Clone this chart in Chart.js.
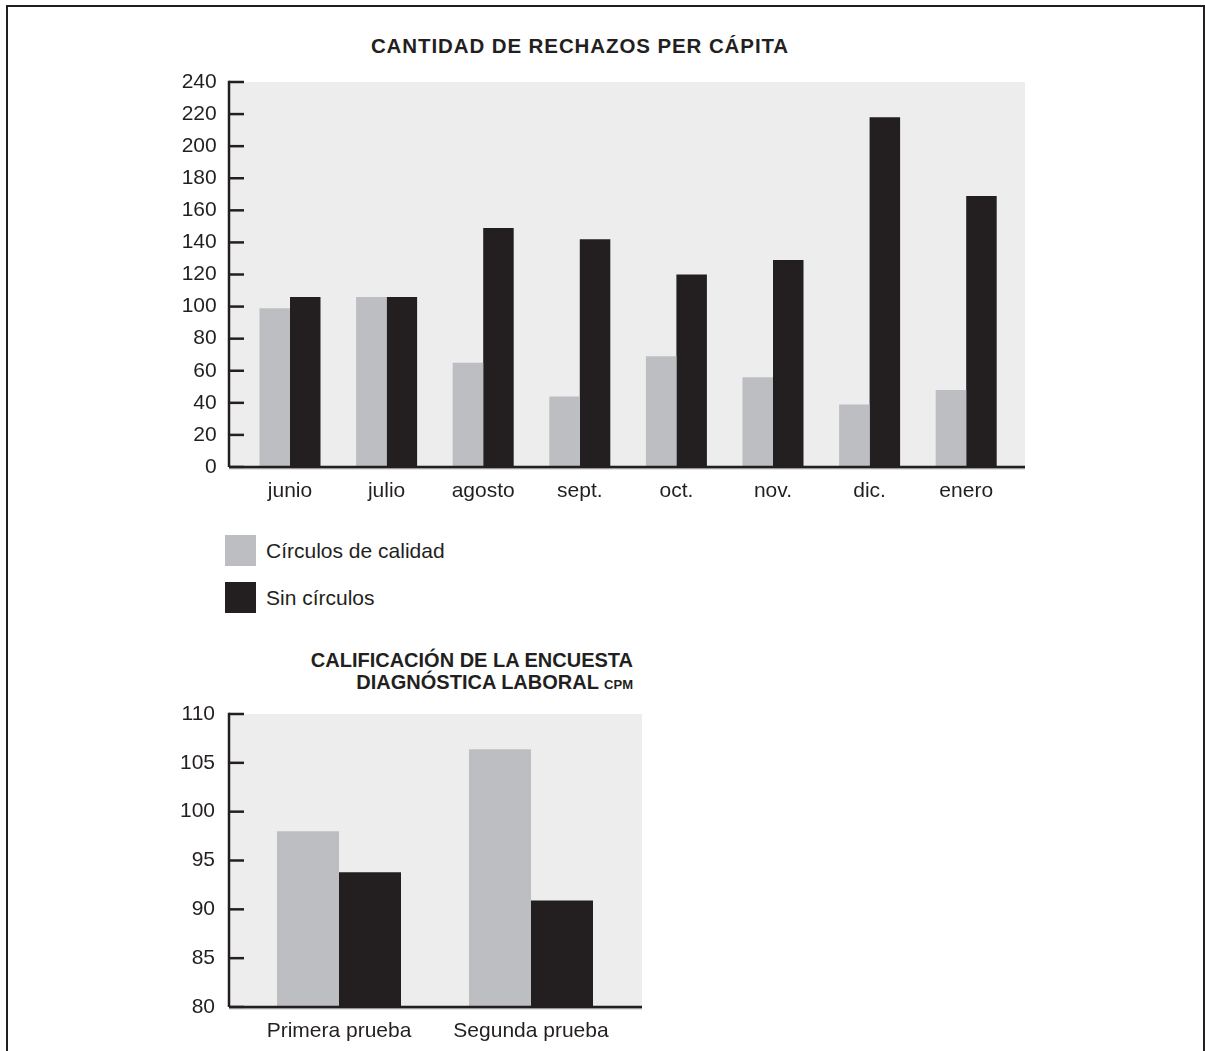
<!DOCTYPE html>
<html><head><meta charset="utf-8">
<script src="https://cdn.jsdelivr.net/npm/chart.js@4.4.0/dist/chart.umd.min.js"></script>
<style>
body{margin:0;background:#fff;width:1205px;height:1051px;overflow:hidden;position:relative;font-family:"Liberation Sans",Arial,sans-serif;color:#231f20}
#frame{position:absolute;left:6px;top:5px;width:1195px;height:1100px;border:2px solid #231f20;border-bottom:none;box-sizing:content-box}
.t{position:absolute;font-weight:bold;font-size:20px;white-space:nowrap;line-height:22px}
.cv{position:absolute;left:0}
.lg{position:absolute;left:225px;width:31px;height:31px}
.lt{position:absolute;left:266px;font-size:21px;line-height:24px;white-space:nowrap}
</style></head>
<body>
<div id="frame"></div>
<div class="t" id="t1" style="left:0;width:1160px;text-align:center;top:35px;font-size:20.5px;letter-spacing:0.9px">CANTIDAD DE RECHAZOS PER CÁPITA</div>
<div class="t" id="t2" style="right:572px;text-align:right;top:649px">CALIFICACIÓN DE LA ENCUESTA<br>DIAGNÓSTICA LABORAL <span style="font-size:13px">CPM</span></div>
<canvas class="cv" id="c1" width="1205" height="520" style="top:0"></canvas>
<div class="lg" style="top:535px;background:#bdbec1"></div>
<div class="lt" style="top:539px">Círculos de calidad</div>
<div class="lg" style="top:582px;background:#231f20"></div>
<div class="lt" style="top:586px">Sin círculos</div>
<canvas class="cv" id="c2" width="1205" height="411" style="top:640px"></canvas>
<script>
// Top chart data
const months = ["junio","julio","agosto","sept.","oct.","nov.","dic.","enero"];
const conCirculos = [99,106,65,44,69,56,39,48];
const sinCirculos = [106,106,149,142,120,129,218,169];
const rejTicks = {min:0,max:240,step:20};
// Bottom chart data
const pruebas = ["Primera prueba","Segunda prueba"];
const calConCirculos = [98,106.4];
const calSinCirculos = [93.8,90.9];
const calTicks = {min:80,max:110,step:5};
const seriesNames = ["Círculos de calidad","Sin círculos"];

const LIGHT='#bdbec1', DARK='#231f20', BG='#ededed', INK='#231f20';
const FONT={family:'"Liberation Sans", Arial, sans-serif',size:21};

const deco={
  id:'deco',
  beforeDatasetsDraw(chart,args,o){
    const {ctx,chartArea:a}=chart;
    ctx.save();
    ctx.fillStyle=BG;
    ctx.fillRect(o.axisX+1,a.top,o.bgRight-o.axisX-1,a.bottom-a.top);
    ctx.restore();
  },
  afterDatasetsDraw(chart,args,o){
    const {ctx,chartArea:a,scales:{y}}=chart;
    ctx.save();
    ctx.strokeStyle=INK;
    ctx.lineWidth=2.5;
    ctx.beginPath();
    ctx.moveTo(o.axisX,a.top-1.2);ctx.lineTo(o.axisX,a.bottom);
    ctx.stroke();
    y.ticks.forEach(t=>{
      const py=y.getPixelForValue(t.value);
      ctx.beginPath();ctx.moveTo(o.axisX,py);ctx.lineTo(o.axisX+15,py);ctx.stroke();
    });
    ctx.beginPath();ctx.moveTo(o.axisX,a.bottom);ctx.lineTo(o.bgRight,a.bottom);ctx.stroke();
    ctx.strokeStyle='#8a8a8c';ctx.lineWidth=1;
    ctx.beginPath();ctx.moveTo(o.axisX,a.bottom+1.75);ctx.lineTo(o.bgRight,a.bottom+1.75);ctx.stroke();
    ctx.restore();
  }
};

function makeChart(id,labels,d1,d2,tk,cfg){
  return new Chart(document.getElementById(id),{
    type:'bar',
    data:{labels,datasets:[
      {label:seriesNames[0],data:d1,backgroundColor:LIGHT,borderWidth:0},
      {label:seriesNames[1],data:d2,backgroundColor:DARK,borderWidth:0}
    ]},
    plugins:[deco],
    options:{
      responsive:false,animation:false,devicePixelRatio:1,
      layout:{padding:{left:0,right:cfg.padRight,top:cfg.padTop,bottom:0}},
      datasets:{bar:{categoryPercentage:cfg.catPct,barPercentage:1}},
      plugins:{legend:{display:false},tooltip:{enabled:false},title:{display:false},
        deco:{axisX:cfg.axisX,bgRight:cfg.bgRight}},
      scales:{
        x:{offset:true,grid:{display:false,drawTicks:false},border:{display:false},
           ticks:{color:INK,font:FONT,padding:cfg.xPad,maxRotation:0},
           afterFit(s){s.height=cfg.xH;}},
        y:{min:tk.min,max:tk.max,grid:{display:false,drawTicks:false},border:{display:false},
           ticks:{stepSize:tk.step,color:INK,font:FONT,padding:cfg.yPad},
           afterFit(s){s.width=cfg.yW;}}
      }
    }
  });
}
makeChart('c1',months,conCirculos,sinCirculos,rejTicks,
  {padRight:1205-1014.5,padTop:82,catPct:61/96.6,axisX:229,bgRight:1025,xPad:12,xH:53,yPad:25,yW:241.7});
makeChart('c2',pruebas,calConCirculos,calSinCirculos,calTicks,
  {padRight:1205-627,padTop:74,catPct:124/192,axisX:229,bgRight:642,xPad:12,xH:44,yPad:28,yW:243});
</script>
</body></html>
